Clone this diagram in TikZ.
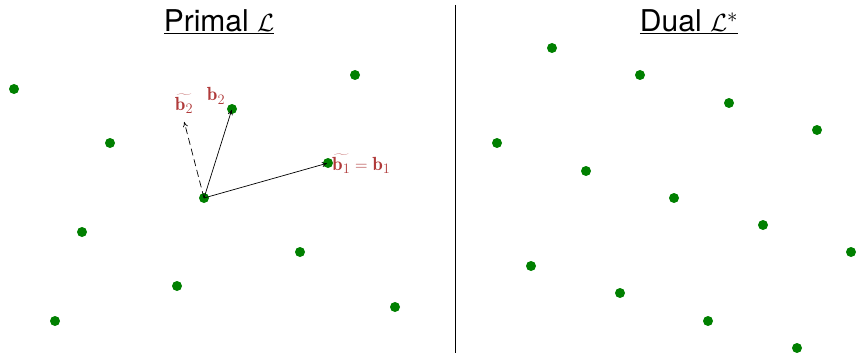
\documentclass[tikz,border=0pt]{standalone}
\usepackage{fontspec}
\setsansfont{TeX Gyre Heros}
\usetikzlibrary{arrows.meta}
\definecolor{dotgreen}{RGB}{0,128,0}
\definecolor{lblred}{RGB}{176,58,58}
\begin{document}
\begin{tikzpicture}[x=1pt,y=-1pt,
  dot/.style={circle,fill=dotgreen,inner sep=0pt,minimum size=10pt},
  vec/.style={-{To[length=5pt,width=5pt]},black,line width=0.7pt,shorten >=1pt},
  lbl/.style={text=lblred,font=\fontsize{19}{22}\selectfont,inner sep=1pt},
  title/.style={font=\sffamily\fontsize{30}{34}\selectfont}]
\useasboundingbox (0,0) rectangle (857,353);
% divider
\draw[line width=0.8pt] (455,5) -- (455,353);
% titles
\node[title] (tp) at (219,22) {\underline{Primal $\mathcal{L}$}};
\node[title] (td) at (689,22) {\underline{Dual $\mathcal{L}^*$}};
% primal lattice
\foreach \n/\x/\y in {p1/14/89, p2/110/143, p3/82/232, p4/55/321, p5/177/286,
  o/204/198, b2/232/109, b1/328/163, p6/300/252, p7/395/307, p8/355/75}
  \node[dot] (\n) at (\x,\y) {};
% dual lattice
\foreach \n/\x/\y in {d1/552/48, d2/640/75, d3/729/103, d4/817/130, d5/497/143,
  d6/586/171, d7/674/198, d8/763/225, d9/851/252, d10/531/266, d11/620/293,
  d12/708/321, d13/797/348}
  \node[dot] (\n) at (\x,\y) {};
% vectors
\coordinate (gs2) at (184,121);
\draw[vec] (o.center) -- (b2.center);
\draw[vec] (o.center) -- (b1.center);
\draw[vec,dash pattern=on 7pt off 4pt] (o.center) -- (gs2);
% labels
\node[lbl] (lb2) at (216,96) {$\mathbf{b}_2$};
\node[lbl] (lgs2) at (184,104) {$\widetilde{\mathbf{b}_2}$};
\node[lbl,anchor=west] (lb1) at (331,164) {$\widetilde{\mathbf{b}_1}\;{=}\;\mathbf{b}_1$};
\end{tikzpicture}
\end{document}
